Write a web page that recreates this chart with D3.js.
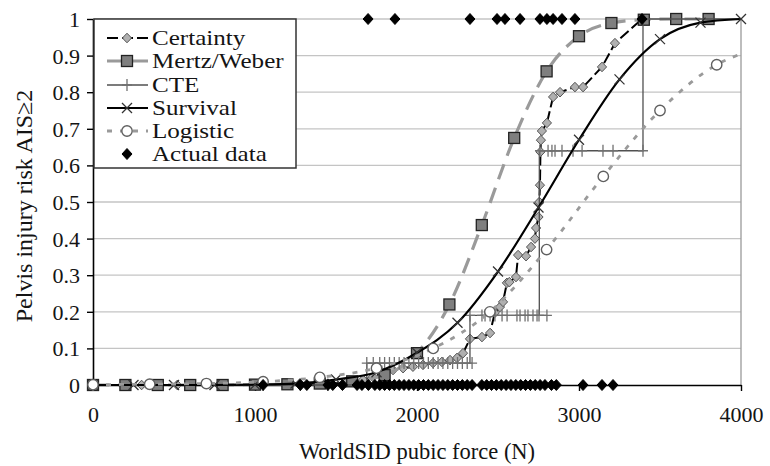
<!DOCTYPE html>
<html><head><meta charset="utf-8">
<script src="https://cdn.jsdelivr.net/npm/d3@7"></script>
<style>
html,body{margin:0;padding:0;background:#fff;}
svg{display:block;font-family:"Liberation Serif","Times New Roman",serif;}
</style></head>
<body>
<svg id="c" width="770" height="466"></svg>
<script>
// ---------- data ----------
const xTicks = [0, 1000, 2000, 3000, 4000];
const yTicks = [0, 0.1, 0.2, 0.3, 0.4, 0.5, 0.6, 0.7, 0.8, 0.9, 1];
const xTitle = "WorldSID pubic force (N)";
const yTitle = "Pelvis injury risk AIS≥2";
const seriesNames = ["Certainty", "Mertz/Weber", "CTE", "Survival", "Logistic", "Actual data"];

const certaintyX = [0, 300, 520, 1000, 1280, 1450, 1560, 1605, 1667, 1728, 1790, 1852, 1914, 1975, 2037, 2099, 2154, 2204, 2247, 2284, 2327, 2401, 2451, 2480, 2512, 2531, 2555, 2570, 2611, 2624, 2673, 2704, 2728, 2735, 2750, 2755, 2759, 2762, 2765, 2771, 2802, 2840, 2883, 2975, 3025, 3142, 3222, 3389];
const certaintyY = [0, 0, 0, 0.001, 0.002, 0.004, 0.006, 0.008, 0.014, 0.022, 0.033, 0.041, 0.046, 0.05, 0.055, 0.06, 0.063, 0.068, 0.074, 0.087, 0.126, 0.131, 0.142, 0.197, 0.213, 0.227, 0.279, 0.281, 0.295, 0.355, 0.352, 0.377, 0.40, 0.429, 0.459, 0.50, 0.546, 0.637, 0.669, 0.694, 0.716, 0.787, 0.80, 0.814, 0.814, 0.869, 0.934, 1.0];

const mertzX = [0, 200, 400, 600, 800, 1000, 1200, 1400, 1600, 1800, 2000, 2200, 2400, 2600, 2800, 3000, 3200, 3400, 3600, 3800];
const mertzY = [0, 0, 0, 0, 0, 0.001, 0.002, 0.004, 0.01, 0.027, 0.087, 0.22, 0.437, 0.675, 0.857, 0.953, 0.989, 0.998, 1.0, 1.0];

// CTE step line vertices
const cteLineX = [0, 1690, 1690, 2327, 2327, 2802, 2755, 2755, 3395, 3395, 4000];
const cteLineY = [0, 0, 0.06, 0.06, 0.19, 0.19, 0.19, 0.64, 0.64, 1.0, 1.0];
// CTE "+" markers
const cteX = [0, 1050, 1280, 1450, 1690, 1730, 1770, 1800, 1830, 1860, 1890, 1920, 1950, 1980, 2010, 2040, 2070, 2100, 2130, 2160, 2190, 2220, 2250, 2280, 2310, 2340,
  2327, 2401, 2420, 2451, 2481, 2525, 2556, 2617, 2636, 2667, 2685, 2716, 2741, 2753, 2802,
  2759, 2809, 2833, 2852, 2895, 2963, 3019, 3148, 3210, 3395];
const cteY = [0, 0, 0, 0, 0.06, 0.06, 0.06, 0.06, 0.06, 0.06, 0.06, 0.06, 0.06, 0.06, 0.06, 0.06, 0.06, 0.06, 0.06, 0.06, 0.06, 0.06, 0.06, 0.06, 0.06, 0.06,
  0.19, 0.19, 0.19, 0.19, 0.19, 0.19, 0.19, 0.19, 0.19, 0.19, 0.19, 0.19, 0.19, 0.19, 0.19,
  0.64, 0.64, 0.64, 0.64, 0.64, 0.64, 0.64, 0.64, 0.64, 0.64];

const survivalX = [0, 250, 500, 750, 1000, 1250, 1500, 1750, 2000, 2250, 2500, 2750, 3000, 3250, 3500, 3750, 4000];
const survivalY = [0, 0, 0, 0, 0.001, 0.004, 0.015, 0.035, 0.088, 0.17, 0.31, 0.485, 0.67, 0.835, 0.945, 0.99, 1.0];

const logisticX = [0, 350, 700, 1050, 1400, 1750, 2100, 2450, 2800, 3150, 3500, 3850];
const logisticY = [0.001, 0.002, 0.004, 0.009, 0.021, 0.046, 0.10, 0.20, 0.37, 0.57, 0.75, 0.875];
const logisticEndX = 4000, logisticEndY = 0.905;

const actualTopX = [1698, 1864, 2327, 2494, 2543, 2636, 2759, 2802, 2840, 2895, 2975, 3389];
const actualBottomX = [1050, 1280, 1320, 1450, 1480, 1540, 1630, 1660, 1700, 1740, 1770, 1800, 1830, 1860, 1890, 1920, 1950, 1980, 2010, 2040, 2070, 2100, 2130, 2160, 2190, 2220, 2250, 2280, 2310, 2340, 2400, 2430, 2460, 2490, 2520, 2550, 2580, 2610, 2640, 2670, 2700, 2730, 2760, 2790, 2830, 2860, 3025, 3142, 3210];

// ---------- drawing ----------
const svg = d3.select("#c");
const x = d3.scaleLinear().domain([0, 4000]).range([93, 741]);
const y = d3.scaleLinear().domain([0, 1]).range([385, 19]);
const TXT = "#141414";

// gridlines
svg.append("g").selectAll("line").data(yTicks.filter(d => d > 0)).join("line")
  .attr("x1", x(0)).attr("x2", x(4000)).attr("y1", d => y(d)).attr("y2", d => y(d))
  .attr("stroke", "#c4c4c4").attr("stroke-width", 1.3);
// right border
svg.append("line").attr("x1", x(4000)).attr("x2", x(4000)).attr("y1", y(1)).attr("y2", y(0))
  .attr("stroke", "#9a9a9a").attr("stroke-width", 1.3);

// axes
const yAxis = d3.axisLeft(y).tickValues(yTicks).tickSize(6).tickSizeOuter(0).tickFormat(d => String(d));
const gy = svg.append("g").attr("transform", `translate(${x(0)},0)`).call(yAxis);
const xAxis = d3.axisBottom(x).tickValues(xTicks).tickSize(6).tickSizeOuter(0).tickFormat(d => String(d));
const gx = svg.append("g").attr("transform", `translate(0,${y(0)})`).call(xAxis);
[gx, gy].forEach(g => {
  g.select(".domain").attr("stroke", "#000").attr("stroke-width", 1.6);
  g.selectAll(".tick line").attr("stroke", "#000").attr("stroke-width", 1.4);
  g.selectAll("text").attr("font-size", 22).attr("fill", TXT).attr("font-family", "Liberation Serif");
});
gy.selectAll("text").attr("x", -13).attr("dy", "0.34em");
gx.selectAll("text").attr("y", 21).attr("dy", "0.71em");

// titles
svg.append("text").attr("x", x(2000)).attr("y", 459).attr("text-anchor", "middle")
  .attr("font-size", 22.5).attr("fill", TXT).text(xTitle);
svg.append("text").attr("transform", `translate(32,206) rotate(-90)`)
  .attr("text-anchor", "middle").attr("font-size", 24).attr("fill", TXT).text(yTitle);

const zip = (xs, ys) => xs.map((v, i) => [v, ys[i]]);
const line = (curve) => d3.line().x(d => x(d[0])).y(d => y(d[1])).curve(curve);

// marker painters
const diamondPath = (w, h) => `M0,${-h}L${w},0L0,${h}L${-w},0Z`;
function drawDiamond(g, cx, cy, fill, stroke, w, h) {
  g.append("path").attr("d", diamondPath(w, h)).attr("transform", `translate(${cx},${cy})`)
    .attr("fill", fill).attr("stroke", stroke).attr("stroke-width", 1);
}
function drawSquare(g, cx, cy) {
  g.append("rect").attr("x", cx - 5.5).attr("y", cy - 5.5).attr("width", 11).attr("height", 11)
    .attr("fill", "#7f7f7f").attr("stroke", "#222").attr("stroke-width", 1.3);
}
function drawPlus(g, cx, cy) {
  g.append("path").attr("d", `M${cx - 5},${cy}H${cx + 5}M${cx},${cy - 6}V${cy + 6}`)
    .attr("stroke", "#707070").attr("stroke-width", 1.3).attr("fill", "none");
}
function drawCross(g, cx, cy) {
  g.append("path").attr("d", `M${cx - 5},${cy - 5}L${cx + 5},${cy + 5}M${cx - 5},${cy + 5}L${cx + 5},${cy - 5}`)
    .attr("stroke", "#333").attr("stroke-width", 1.3).attr("fill", "none");
}
function drawCircle(g, cx, cy) {
  g.append("circle").attr("cx", cx).attr("cy", cy).attr("r", 5.2)
    .attr("fill", "#fff").attr("stroke", "#606060").attr("stroke-width", 1.4);
}

const styles = {
  certainty: { stroke: "#000", width: 2, dash: "11,4" },
  mertz: { stroke: "#9a9a9a", width: 3.2, dash: "16,9" },
  cte: { stroke: "#505050", width: 1.3, dash: null },
  survival: { stroke: "#000", width: 2.2, dash: null },
  logistic: { stroke: "#9a9a9a", width: 2.8, dash: "5,8" }
};
function styled(sel, s) {
  sel.attr("fill", "none").attr("stroke", s.stroke).attr("stroke-width", s.width);
  if (s.dash) sel.attr("stroke-dasharray", s.dash);
  return sel;
}

const plot = svg.append("g");
// Certainty
const cData = zip(certaintyX, certaintyY);
styled(plot.append("path").attr("d", line(d3.curveLinear)(cData)), styles.certainty);
const gC = plot.append("g");
cData.forEach(d => drawDiamond(gC, x(d[0]), y(d[1]), "#b0b0b0", "#555", 4.6, 4.8));
// Mertz/Weber
const mData = zip(mertzX, mertzY);
styled(plot.append("path").attr("d", line(d3.curveMonotoneX)(mData)), styles.mertz);
const gM = plot.append("g");
mData.forEach(d => drawSquare(gM, x(d[0]), y(d[1])));
// CTE
styled(plot.append("path").attr("d", line(d3.curveLinear)(zip(cteLineX, cteLineY))), styles.cte);
const gT = plot.append("g");
zip(cteX, cteY).forEach(d => drawPlus(gT, x(d[0]), y(d[1])));
// Survival
const sData = zip(survivalX, survivalY);
styled(plot.append("path").attr("d", line(d3.curveMonotoneX)(sData)), styles.survival);
const gS = plot.append("g");
sData.forEach(d => drawCross(gS, x(d[0]), y(d[1])));
// Logistic
const lData = zip(logisticX, logisticY);
styled(plot.append("path").attr("d", line(d3.curveMonotoneX)(lData.concat([[logisticEndX, logisticEndY]]))), styles.logistic);
const gL = plot.append("g");
lData.forEach(d => drawCircle(gL, x(d[0]), y(d[1])));
// Actual data
const gA = plot.append("g");
actualBottomX.forEach(v => drawDiamond(gA, x(v), y(0), "#000", "#000", 5, 5.5));
actualTopX.forEach(v => drawDiamond(gA, x(v), y(1), "#000", "#000", 5, 5.5));

// ---------- legend ----------
const lg = svg.append("g");
lg.append("rect").attr("x", 94).attr("y", 19).attr("width", 202).attr("height", 149)
  .attr("fill", "#fff").attr("stroke", "#333").attr("stroke-width", 1.5);
const rowY = [38, 61, 85, 108, 131, 154];
const keys = ["certainty", "mertz", "cte", "survival", "logistic", null];
keys.forEach((k, i) => {
  const cy = rowY[i], cx = 127;
  if (k) styled(lg.append("line").attr("x1", 107).attr("x2", 148).attr("y1", cy).attr("y2", cy), styles[k]);
  if (k === "certainty") drawDiamond(lg, cx, cy, "#b0b0b0", "#555", 4.6, 4.8);
  if (k === "mertz") drawSquare(lg, cx, cy);
  if (k === "cte") drawPlus(lg, cx, cy);
  if (k === "survival") drawCross(lg, cx, cy);
  if (k === "logistic") drawCircle(lg, cx, cy);
  if (k === null) drawDiamond(lg, cx, cy, "#000", "#000", 5, 5.5);
  lg.append("text").attr("transform", `translate(152,${cy}) scale(1.14,1)`).attr("dy", "0.34em")
    .attr("font-size", 22).attr("fill", TXT).text(seriesNames[i]);
});
</script>
</body></html>
